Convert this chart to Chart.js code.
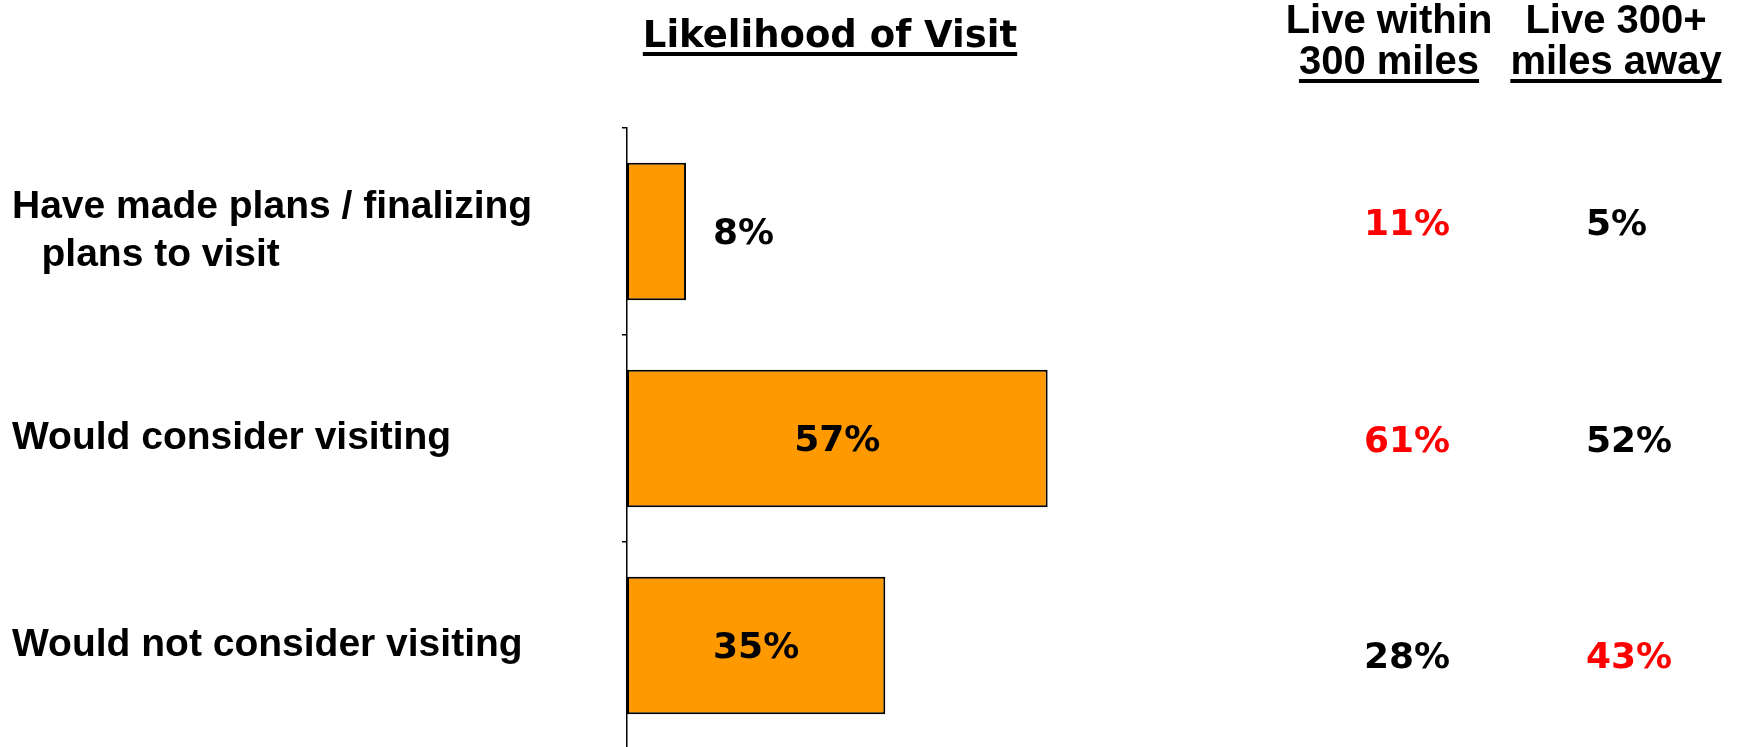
<!DOCTYPE html>
<html>
<head>
<meta charset="utf-8">
<script src="https://cdn.jsdelivr.net/npm/chart.js@4/dist/chart.umd.min.js"></script>
<style>
html, body { margin: 0; padding: 0; background: #fff; overflow: hidden; width: 1739px; height: 747px; }
#wrap { position: relative; width: 1739px; height: 747px; overflow: hidden; background: #fff; }
#chart { position: absolute; left: 0; top: 0; }
.t { position: absolute; color: #000; font-weight: bold; white-space: nowrap; text-align: center; z-index: 2; }
.u { text-decoration: underline; text-decoration-thickness: 4px; text-underline-offset: 5px; text-decoration-skip-ink: none; }
#title { font-family: "DejaVu Sans"; font-size: 37px; line-height: 40px; left: 580px; width: 500px; top: 15px; }
.hdr { font-family: "Liberation Sans"; font-size: 40px; line-height: 41px; top: -1px; width: 300px; }
#h1 { left: 1239px; }
#h2 { left: 1466px; }
</style>
</head>
<body>
<div id="wrap">
  <canvas id="chart" width="1739" height="760"></canvas>
  <div id="title" class="t"><span class="u">Likelihood of Visit</span></div>
  <div id="h1" class="t hdr">Live within<br><span class="u">300 miles</span></div>
  <div id="h2" class="t hdr">Live 300+<br><span class="u">miles away</span></div>
</div>
<script>
// ---- Data ----
const categories = [
  ['Have made plans / finalizing', '  \u2009plans to visit'],
  'Would consider visiting',
  'Would not consider visiting'
];
const likelihood = [8, 57, 35];          // total, %
const within300 = [11, 61, 28];          // live within 300 miles, %
const away300 = [5, 52, 43];             // live 300+ miles away, %
const withinHighlight = [true, true, false];
const awayHighlight = [false, false, true];

// ---- Labels plugin ----
const valueLabels = {
  id: 'valueLabels',
  afterDatasetsDraw(chart) {
    const ctx = chart.ctx;
    const meta = chart.getDatasetMeta(0);
    const yScale = chart.scales.y;
    ctx.save();
    ctx.font = 'bold 36px "DejaVu Sans"';
    ctx.textBaseline = 'alphabetic';
    ctx.textAlign = 'left';
    ctx.fillStyle = '#000';
    meta.data.forEach((bar, i) => {
      const txt = likelihood[i] + '%';
      const w = ctx.measureText(txt).width;
      const len = bar.x - bar.base;
      const inside = len > w + 30;
      const bx = inside ? (bar.x + bar.base) / 2 - w / 2 : bar.x + 27;
      ctx.fillText(txt, bx, bar.y + 12);
    });
    const mid = yScale.getPixelForValue(1);
    const col1 = chart.chartArea.right - 1;
    const col2 = col1 + 222;
    categories.forEach((c, i) => {
      const cy = mid + (yScale.getPixelForValue(i) - mid) * 1.045 + 13;
      ctx.fillStyle = withinHighlight[i] ? '#FF0000' : '#000';
      ctx.fillText(within300[i] + '%', col1, cy);
      ctx.fillStyle = awayHighlight[i] ? '#FF0000' : '#000';
      ctx.fillText(away300[i] + '%', col2, cy);
    });
    ctx.restore();
  }
};

new Chart(document.getElementById('chart'), {
  type: 'bar',
  data: {
    labels: categories,
    datasets: [{
      data: likelihood,
      backgroundColor: '#FF9900',
      borderColor: '#000',
      borderWidth: 2,
      borderSkipped: false,
      barPercentage: 0.665,
      categoryPercentage: 1
    }]
  },
  options: {
    indexAxis: 'y',
    responsive: false,
    animation: false,
    events: [],
    layout: { padding: { left: 12, top: 128, right: 374, bottom: 11 } },
    plugins: {
      legend: { display: false },
      tooltip: { enabled: false },
      title: { display: false }
    },
    scales: {
      x: { display: false, min: 0, max: 100 },
      y: {
        offset: true,
        border: { display: true, color: '#000', width: 1.5 },
        grid: { display: true, drawOnChartArea: false, drawTicks: true, tickLength: 5, color: '#000', lineWidth: 1.5, offset: true },
        ticks: {
          crossAlign: 'far',
          color: '#000',
          autoSkip: false,
          font: { family: '"Liberation Sans"', size: 39, weight: 'bold', lineHeight: 1.22 }
        },
        afterFit(s) { s.width = 615; s.paddingTop = 0; s.paddingBottom = 0; }
      }
    }
  },
  plugins: [valueLabels]
});
</script>
</body>
</html>
